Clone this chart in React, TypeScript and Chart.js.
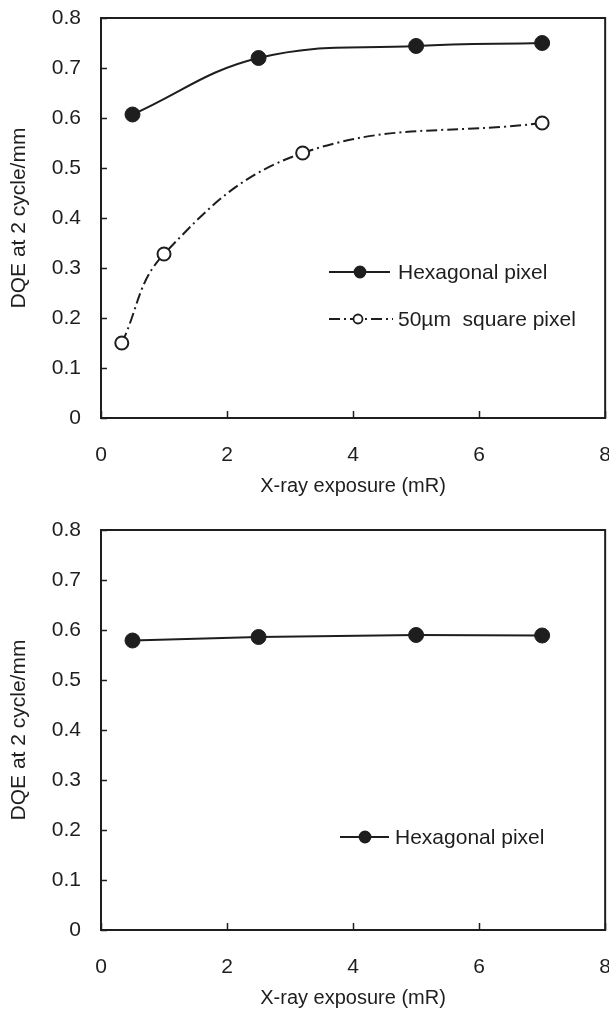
import React, { useEffect, useRef } from "react";
import { Chart, registerables } from "chart.js";

Chart.register(...registerables);

// ---------- data ----------
const xTickValues = [0, 2, 4, 6, 8];
const yTickValues = [0, 0.1, 0.2, 0.3, 0.4, 0.5, 0.6, 0.7, 0.8];

const hexTopX = [0.5, 2.5, 5, 7];
const hexTopY = [0.607, 0.72, 0.744, 0.75];

const squareX = [0.33, 1.0, 3.2, 7.0];
const squareY = [0.15, 0.328, 0.53, 0.59];

const hexBottomX = [0.5, 2.5, 5, 7];
const hexBottomY = [0.579, 0.586, 0.59, 0.589];

const seriesNames = ["Hexagonal pixel", "50\u00b5m  square pixel"];
const xTitle = "X-ray exposure (mR)";
const yTitle = "DQE at 2 cycle/mm";

const FONT = "'Liberation Sans', Arial, Helvetica, sans-serif";
const INK = "#1e1e1e";
const CANVAS_W = 636;

const toPoints = (xs: number[], ys: number[]) => xs.map((x, i) => ({ x, y: ys[i] }));

const framePlugin = {
  id: "frameTicks",
  beforeDatasetsDraw(chart: any) {
    const { ctx } = chart;
    const xs = chart.scales.x;
    const ys = chart.scales.y;
    const left = xs.getPixelForValue(xs.min);
    const right = xs.getPixelForValue(xs.max);
    const top = ys.getPixelForValue(ys.max);
    const bottom = ys.getPixelForValue(ys.min);
    ctx.save();
    ctx.strokeStyle = INK;
    ctx.lineWidth = 2;
    ctx.strokeRect(left, top, right - left, bottom - top);
    ctx.lineWidth = 1.5;
    ys.ticks.forEach((t: any) => {
      const py = Math.round(ys.getPixelForValue(t.value)) + 0.5;
      ctx.beginPath();
      ctx.moveTo(left, py);
      ctx.lineTo(left + 6, py);
      ctx.stroke();
    });
    xs.ticks.forEach((t: any) => {
      const px = Math.round(xs.getPixelForValue(t.value)) + 0.5;
      ctx.beginPath();
      ctx.moveTo(px, bottom);
      ctx.lineTo(px, bottom - 7);
      ctx.stroke();
    });
    ctx.restore();
  },
};

const legendPlugin = {
  id: "insideLegend",
  afterDraw(chart: any, _args: any, opts: any) {
    const { ctx } = chart;
    const items = (opts && opts.items) || [];
    ctx.save();
    items.forEach((it: any) => {
      const ds = chart.data.datasets[it.dataset];
      ctx.strokeStyle = INK;
      ctx.lineWidth = 2;
      ctx.setLineDash(ds.borderDash || []);
      ctx.beginPath();
      ctx.moveTo(it.x0, it.y);
      ctx.lineTo(it.x1, it.y);
      ctx.stroke();
      ctx.setLineDash([]);
      ctx.beginPath();
      ctx.arc(it.mx, it.y, it.r, 0, Math.PI * 2);
      ctx.fillStyle = it.filled ? INK : "#ffffff";
      ctx.fill();
      ctx.lineWidth = 1.8;
      ctx.stroke();
      ctx.fillStyle = INK;
      ctx.font = `21px ${FONT}`;
      ctx.textBaseline = "middle";
      ctx.textAlign = "left";
      ctx.fillText(ds.label, it.tx, it.y + 1);
    });
    ctx.restore();
  },
};

function buildOptions(topPad: number, legendItems: any[]) {
  return {
    responsive: false,
    animation: false as const,
    layout: { padding: { top: topPad, right: 0, left: 0, bottom: 0 } },
    plugins: {
      legend: { display: false },
      tooltip: { enabled: false },
      insideLegend: { items: legendItems },
    },
    scales: {
      x: {
        type: "linear" as const,
        min: 0,
        max: 8,
        afterBuildTicks: (scale: any) => {
          scale.ticks = xTickValues.map((v) => ({ value: v }));
        },
        afterFit: (scale: any) => {
          scale.height = 82;
        },
        grid: { display: false, drawTicks: false },
        border: { display: false },
        ticks: {
          padding: 25,
          color: INK,
          font: { family: FONT, size: 21 },
          maxRotation: 0,
          callback: (v: any) => String(v),
        },
        title: {
          display: true,
          text: xTitle,
          color: INK,
          font: { family: FONT, size: 20 },
          padding: 2,
        },
      },
      y: {
        type: "linear" as const,
        min: 0,
        max: 0.8,
        afterBuildTicks: (scale: any) => {
          scale.ticks = yTickValues.map((v) => ({ value: v }));
        },
        afterFit: (scale: any) => {
          scale.width = 101;
          scale.paddingTop = 0;
          scale.paddingBottom = 0;
        },
        grid: { display: false, drawTicks: false },
        border: { display: false },
        ticks: {
          padding: 20,
          color: INK,
          font: { family: FONT, size: 21 },
          callback: (v: any) => (v === 0 ? "0" : Number(v).toFixed(1)),
        },
        title: {
          display: true,
          text: yTitle,
          color: INK,
          font: { family: FONT, size: 21 },
          padding: 7,
        },
      },
    },
  };
}

function TopChart() {
  const ref = useRef<HTMLCanvasElement | null>(null);
  useEffect(() => {
    if (!ref.current) return;
    const chart = new Chart(ref.current, {
      type: "line",
      data: {
        datasets: [
          {
            label: seriesNames[0],
            data: toPoints(hexTopX, hexTopY),
            borderColor: INK,
            backgroundColor: INK,
            borderWidth: 2,
            tension: 0.4,
            pointRadius: 7.5,
            pointBackgroundColor: INK,
            pointBorderColor: INK,
            pointBorderWidth: 1,
          },
          {
            label: seriesNames[1],
            data: toPoints(squareX, squareY),
            borderColor: INK,
            backgroundColor: "#ffffff",
            borderWidth: 2,
            borderDash: [11, 4, 2, 4],
            tension: 0.4,
            pointRadius: 6.5,
            pointBackgroundColor: "#ffffff",
            pointBorderColor: INK,
            pointBorderWidth: 2,
          },
        ],
      },
      options: buildOptions(18, [
        { dataset: 0, y: 272, x0: 329, x1: 390, mx: 360, r: 5.5, filled: true, tx: 398 },
        { dataset: 1, y: 319, x0: 329, x1: 393, mx: 358, r: 4.5, filled: false, tx: 398 },
      ]) as any,
      plugins: [framePlugin, legendPlugin],
    });
    return () => chart.destroy();
  }, []);
  return <canvas ref={ref} width={CANVAS_W} height={500} style={{ display: "block" }} />;
}

function BottomChart() {
  const ref = useRef<HTMLCanvasElement | null>(null);
  useEffect(() => {
    if (!ref.current) return;
    const chart = new Chart(ref.current, {
      type: "line",
      data: {
        datasets: [
          {
            label: seriesNames[0],
            data: toPoints(hexBottomX, hexBottomY),
            borderColor: INK,
            backgroundColor: INK,
            borderWidth: 2,
            tension: 0,
            pointRadius: 7.5,
            pointBackgroundColor: INK,
            pointBorderColor: INK,
            pointBorderWidth: 1,
          },
        ],
      },
      options: buildOptions(30, [
        { dataset: 0, y: 337, x0: 340, x1: 389, mx: 365, r: 5.5, filled: true, tx: 395 },
      ]) as any,
      plugins: [framePlugin, legendPlugin],
    });
    return () => chart.destroy();
  }, []);
  return <canvas ref={ref} width={CANVAS_W} height={512} style={{ display: "block" }} />;
}

export default function App() {
  return (
    <div
      style={{
        position: "absolute",
        left: 0,
        top: 0,
        width: 609,
        height: 1012,
        overflow: "hidden",
        background: "#ffffff",
      }}
    >
      <TopChart />
      <BottomChart />
    </div>
  );
}
